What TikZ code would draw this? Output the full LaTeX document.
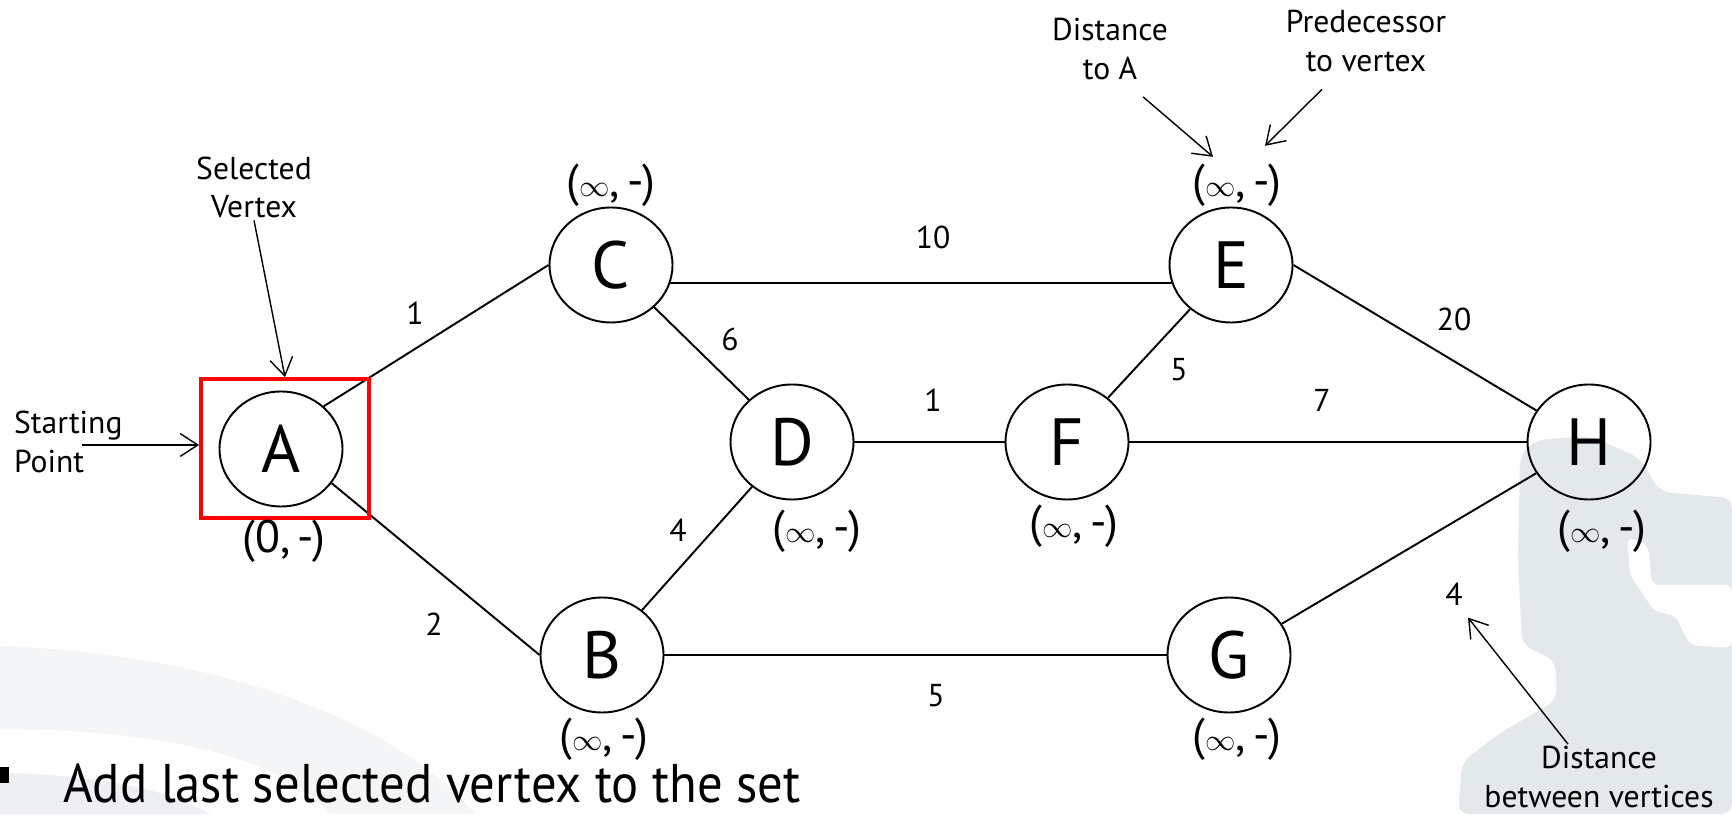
\documentclass[tikz,border=0pt]{standalone}
\usepackage{fontspec}
\setmainfont{PT Sans}
\usetikzlibrary{shapes.geometric,arrows.meta}
\definecolor{haze}{HTML}{F4F5F7}
\definecolor{hazedark}{HTML}{EDEFF2}
\definecolor{ghost}{HTML}{E3E8EA}
\newcommand{\nodist}{($\scriptstyle\infty$,\,-)}
\tikzset{
  weight/.style={font=\fontsize{18}{22}\selectfont,inner sep=2pt},
  dist/.style={font=\fontsize{26}{28}\selectfont,inner sep=0pt},
  note/.style={font=\fontsize{18}{22}\selectfont,align=center,inner sep=1pt},
  pointer/.style={-{Straight Barb[length=10pt,width=13pt]},line width=0.8pt}
}
\begin{document}
\begin{tikzpicture}
  \fill[white] (0,0) rectangle (34.64,16.28);
  \useasboundingbox (0,0) rectangle (34.64,16.28);
  \fill[haze] (0,3.36) .. controls (4.5,3.2) and (8,1.8) .. (9.5,0) -- (6.6,0)
    .. controls (5.6,1.2) and (3,1.7) .. (0,1.7) -- cycle;
  \fill[hazedark] (0,0.82) .. controls (1.8,0.8) and (3.4,0.5) .. (4.2,0) -- (0,0) -- cycle;
  \fill[ghost,rounded corners=6pt] (30.40,7.18) -- (30.70,7.48) -- (31.80,7.56) -- (32.80,7.12)
    -- (33.20,6.44) -- (34.64,6.32) -- (34.64,0) -- (29.16,0) -- (29.24,1.04) -- (30.00,1.62)
    -- (31.14,2.28) -- (31.10,3.08) -- (30.44,3.38) -- (30.36,5.08) -- cycle;
  \fill[white,rounded corners=4pt] (32.54,5.54) -- (32.96,5.38) -- (33.04,4.58) -- (34.64,4.58)
    -- (34.64,3.32) -- (33.80,3.38) -- (33.50,3.98) -- (33.10,4.04) -- (32.80,4.48)
    -- (32.60,4.78) -- cycle;
  \begin{scope}[every node/.style={draw,ellipse,line width=1.1pt,minimum width=2.46cm,
      minimum height=2.3cm,inner sep=0pt,font=\fontsize{38}{40}\selectfont}]
  \node (A) at (5.62,7.30) {A};
  \node (C) at (12.22,10.98) {C};
  \node (E) at (24.62,10.98) {E};
  \node (D) at (15.84,7.44) {D};
  \node (F) at (21.34,7.44) {F};
  \node (H) at (31.78,7.44) {H};
  \node (B) at (12.04,3.18) {B};
  \node (G) at (24.58,3.18) {G};
  \end{scope}
  \begin{scope}[every edge/.style={draw=black,line width=1.1pt}]
  \path (A.45) edge (C.west);
  \path (A.-34) edge (B.west);
  \path (C.-17) edge (E.197);
  \path (C) edge (D);
  \path (B) edge (D);
  \path (D) edge (F);
  \path (F) edge (E);
  \path (E.east) edge (H);
  \path (F) edge (H);
  \path (B) edge (G);
  \path (G) edge (H);
  \end{scope}
  \node[draw=red,line width=2.2pt,minimum width=3.36cm,minimum height=2.78cm] (sel) at (5.70,7.31) {};
  \node[weight] (wAC) at (8.30,10.02) {1};
  \node[weight] (wAB) at (8.68,3.80) {2};
  \node[weight] (wCE) at (18.66,11.54) {10};
  \node[weight] (wCD) at (14.60,9.50) {6};
  \node[weight] (wBD) at (13.56,5.68) {4};
  \node[weight] (wDF) at (18.66,8.28) {1};
  \node[weight] (wEF) at (23.58,8.88) {5};
  \node[weight] (wEH) at (29.08,9.90) {20};
  \node[weight] (wFH) at (26.44,8.28) {7};
  \node[weight] (wBG) at (18.72,2.36) {5};
  \node[weight] (wGH) at (29.08,4.40) {4};
  \node[dist] (dA) at (5.68,5.46) {(0,\,-)};
  \node[dist] (dC) at (12.22,12.58) {\nodist};
  \node[dist] (dE) at (24.74,12.58) {\nodist};
  \node[dist] (dD) at (16.34,5.66) {\nodist};
  \node[dist] (dF) at (21.48,5.76) {\nodist};
  \node[dist] (dH) at (32.04,5.66) {\nodist};
  \node[dist] (dB) at (12.08,1.50) {\nodist};
  \node[dist] (dG) at (24.74,1.50) {\nodist};
  \node[note] (selv) at (5.08,12.53) {Selected\\Vertex};
  \node[note,align=left,anchor=west] (startp) at (0.24,7.44) {Starting\\Point};
  \node[note] (dista) at (22.20,15.30) {Distance\\to A};
  \node[note] (pred) at (27.32,15.46) {Predecessor\\to vertex};
  \node[note] (distb) at (31.98,0.74) {Distance\\between vertices};
  \coordinate (sp) at (1.64,7.38);
  \draw[pointer] (selv.south) -- (sel.north);
  \draw[pointer] (sp) -- (sp -| sel.west);
  \draw[pointer] ([shift={(0.66,-0.3)}]dista.south) -- ([shift={(-0.48,0.13)}]dE.north);
  \draw[pointer] ([shift={(-0.88,-0.31)}]pred.south) -- ([shift={(0.56,0.35)}]dE.north);
  \draw[pointer] ([shift={(-0.62,0.0)}]distb.north) -- ([shift={(0.28,-0.17)}]wGH.south);
  \fill (-0.1,0.62) rectangle (0.18,0.94);
  \node[anchor=base west,inner sep=0pt,font=\fontsize{31}{34}\selectfont] (task) at (1.26,0.24)
    {\scalebox{0.93}[1]{Add last selected vertex to the set}};
\end{tikzpicture}
\end{document}
